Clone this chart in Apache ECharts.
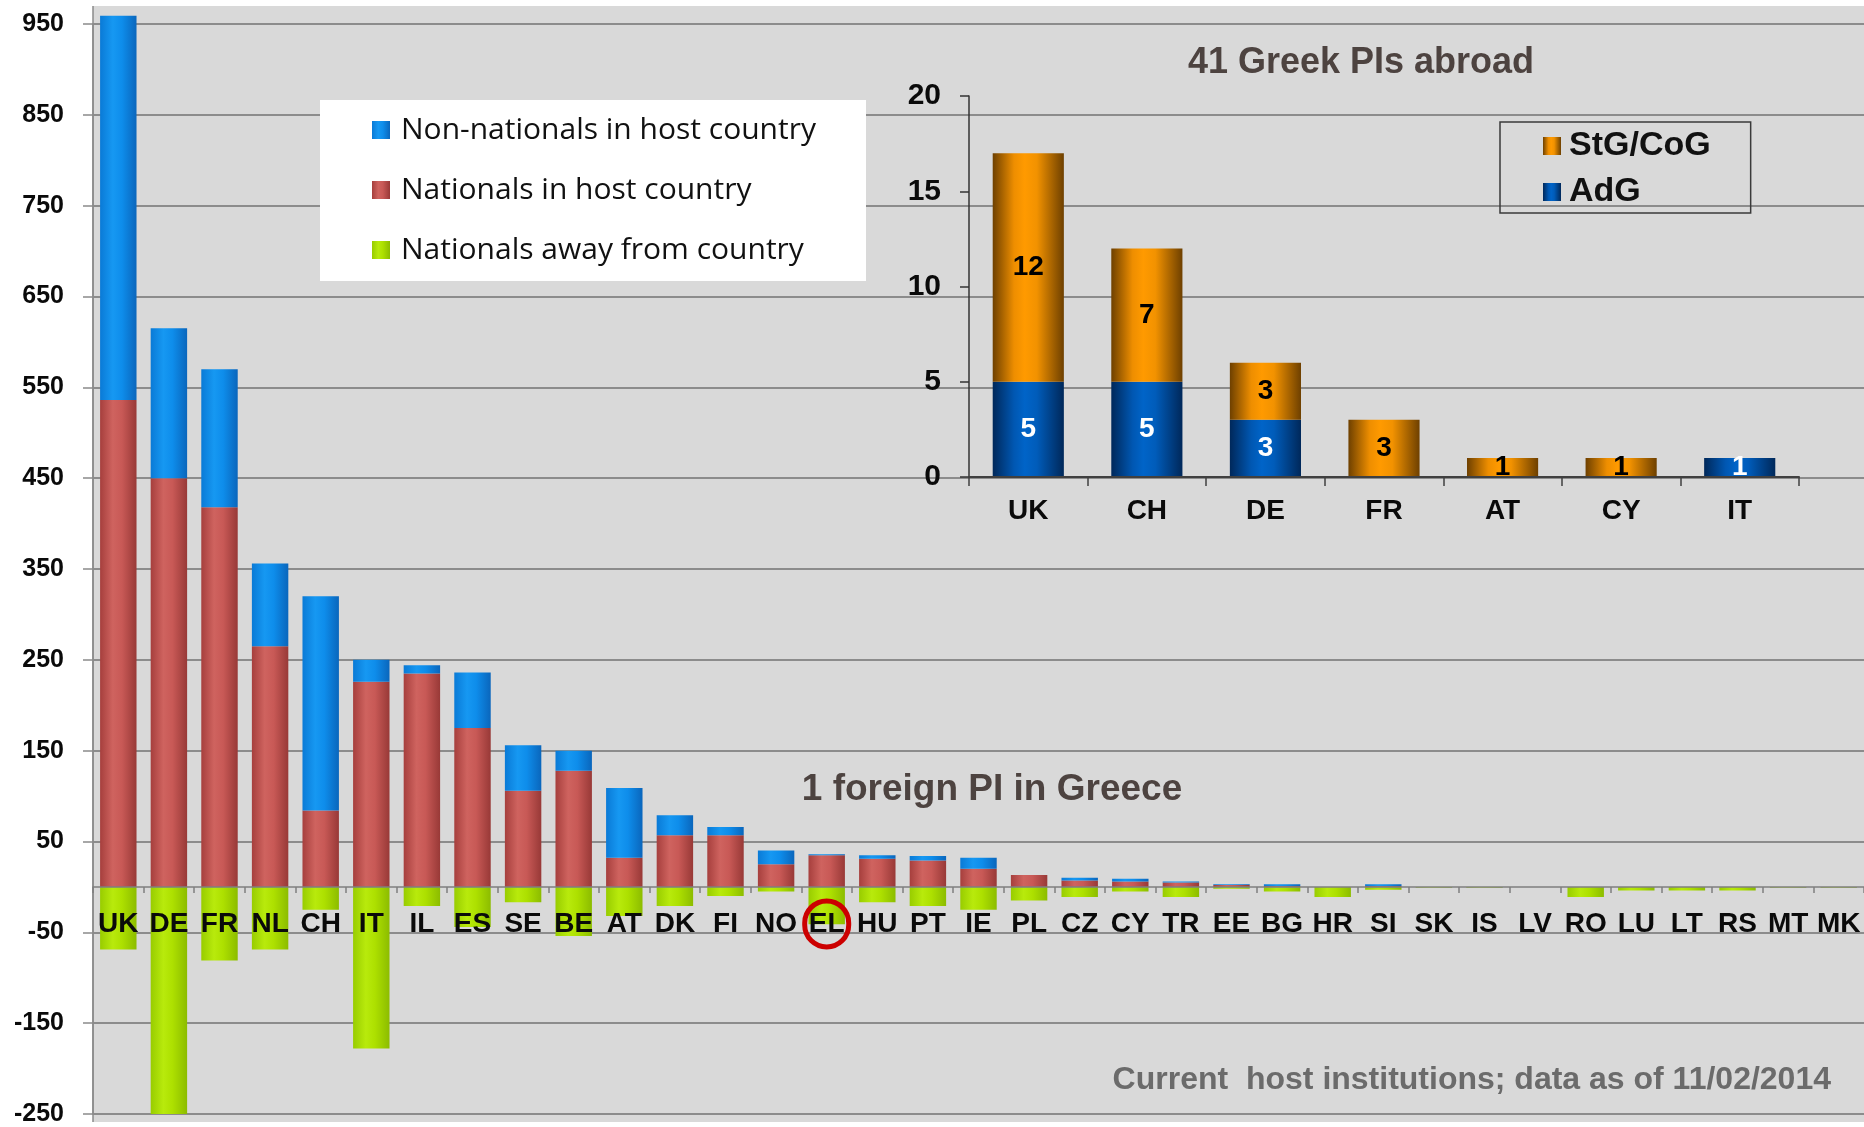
<!DOCTYPE html>
<html>
<head>
<meta charset="utf-8">
<script src="https://cdn.jsdelivr.net/npm/echarts/dist/echarts.min.js"></script>
<style>
  html, body { margin: 0; padding: 0; background: #ffffff; }
  #chart { width: 1864px; height: 1127px; }
</style>
</head>
<body>
<div id="chart"></div>
<script>
// ---------- data ----------
var countries = ['UK','DE','FR','NL','CH','IT','IL','ES','SE','BE','AT','DK','FI','NO','EL','HU','PT','IE','PL','CZ','CY','TR','EE','BG','HR','SI','SK','IS','LV','RO','LU','LT','RS','MT','MK'];
var nationalsHost    = [536,450,418,265, 84,226,235,175,106,128, 32, 57, 57, 25, 35, 31, 29, 20, 13,  7,  6,  5,  2,  1,  0,  1,  0,  0,  0,  0,  0,  0,  0,  0,  0];
var nonNationalsHost = [423,165,152, 91,236, 24,  9, 61, 50, 22, 77, 22,  9, 15,  1,  4,  5, 12,  0,  3,  3,  1,  1,  2,  0,  2,  0,  0,  0,  0,  0,  0,  0,  0,  0];
var nationalsAway    = [-69,-250,-81,-69,-25,-178,-21,-44,-17,-54,-32,-21,-10,-5,-41,-17,-21,-25,-15,-11,-5,-11,-2,-5,-11,-3,-1,-1, 0,-11,-4,-4,-4,-1,-1];
var highlightCountry = 'EL';

var insetCountries = ['UK','CH','DE','FR','AT','CY','IT'];
var adgValues = [5,5,3,0,0,0,1];
var stgValues = [12,7,3,3,1,1,0];

var mainTickMin = -250, mainTickMax = 950, mainTickStep = 100;
var insetTickMin = 0, insetTickMax = 20, insetTickStep = 5;

var seriesNames = ['Non-nationals in host country','Nationals in host country','Nationals away from country'];
var insetNames = ['StG/CoG','AdG'];
var texts = {
  insetTitle: '41 Greek PIs abroad',
  greeceNote: '1 foreign PI in Greece',
  footnote: 'Current  host institutions; data as of 11/02/2014'
};

// ---------- layout ----------
var W = 1864, H = 1127;
var mainGrid = { left: 93, right: 0, top: 24, bottom: 13 };
var mainGridHeight = H - mainGrid.top - mainGrid.bottom;
// move the category axis up from the grid bottom to the value 0
var zeroOffset = -((0 - mainTickMin) / (mainTickMax - mainTickMin)) * mainGridHeight;

// ---------- styles ----------
function hgrad(stops) {
  return { type: 'linear', x: 0, y: 0, x2: 1, y2: 0,
    colorStops: stops.map(function (s) { return { offset: s[0], color: s[1] }; }) };
}
var redGrad   = hgrad([[0,'#A63F3D'],[0.35,'#CF635F'],[0.6,'#C85956'],[1,'#983937']]);
var blueGrad  = hgrad([[0,'#0A7AD6'],[0.35,'#1698F2'],[0.6,'#0E8DEB'],[1,'#0A66BC']]);
var greenGrad = hgrad([[0,'#98CC00'],[0.35,'#B8EA0C'],[0.6,'#ADE000'],[1,'#8CBC00']]);
var orangeGrad = hgrad([[0,'#6E4000'],[0.3,'#EE8E00'],[0.45,'#FF9A00'],[0.62,'#F29200'],[1,'#6E4000']]);
var navyGrad   = hgrad([[0,'#00285A'],[0.3,'#0057B2'],[0.45,'#0064C8'],[0.62,'#005CBA'],[1,'#00285A']]);

var narrowFont = '"Liberation Sans Narrow", "Liberation Sans", Arial, sans-serif';
var boldFont = '"Liberation Sans", Arial, sans-serif';

var chart = echarts.init(document.getElementById('chart'), null, { renderer: 'canvas' });

var option = {
  backgroundColor: '#ffffff',
  animation: false,
  graphic: [
    { type: 'rect', z: -10, silent: true,
      shape: { x: 93, y: 6, width: 1771, height: 1116 },
      style: { fill: '#D9D9D9' } },
    { type: 'line', z: -5, silent: true,
      shape: { x1: 93, y1: 6, x2: 93, y2: 1122 },
      style: { stroke: '#8A8A8A', lineWidth: 1.5 } },
    { type: 'text', z: 20, silent: true,
      style: { text: texts.insetTitle, x: 1361, y: 63, align: 'center', verticalAlign: 'middle',
               font: 'bold 36px "Liberation Sans", Arial, sans-serif', fill: '#4D4340' } },
    { type: 'text', z: 20, silent: true,
      style: { text: texts.greeceNote, x: 992, y: 790, align: 'center', verticalAlign: 'middle',
               font: 'bold 37px "Liberation Sans", Arial, sans-serif', fill: '#4D4340' } },
    { type: 'text', z: 20, silent: true,
      style: { text: texts.footnote, x: 1831, y: 1080, align: 'right', verticalAlign: 'middle',
               font: 'bold 32px "Liberation Sans Narrow", "Liberation Sans", Arial, sans-serif', fill: '#6B6B6B' } }
  ],
  legend: [
    {
      data: seriesNames,
      orient: 'vertical',
      left: 320, top: 100,
      backgroundColor: '#FFFFFF',
      padding: [15, 50, 16, 52],
      itemWidth: 18, itemHeight: 18, itemGap: 30,
      icon: 'rect',
      selectedMode: false,
      textStyle: { fontFamily: '"Open Sans", sans-serif', fontSize: 30, color: '#111111', lineHeight: 30, padding: [0, 0, 0, 6] }
    },
    {
      data: insetNames,
      orient: 'vertical',
      left: 1500, top: 122,
      borderColor: '#3A3A3A', borderWidth: 1.5,
      padding: [7, 40, 4, 43],
      itemWidth: 18, itemHeight: 18, itemGap: 12,
      icon: 'rect',
      selectedMode: false,
      textStyle: { fontFamily: boldFont, fontWeight: 'bold', fontSize: 34, color: '#111111', lineHeight: 34, padding: [0, 0, 0, 3] }
    }
  ],
  grid: [
    { left: mainGrid.left, right: mainGrid.right, top: mainGrid.top, bottom: mainGrid.bottom, outerBoundsMode: 'none', containLabel: false },
    { left: 969, right: 65, top: 96, bottom: 650, outerBoundsMode: 'none', containLabel: false }
  ],
  xAxis: [
    {
      type: 'category', gridIndex: 0, data: countries, z: 5,
      position: 'bottom', offset: zeroOffset,
      axisLine: { show: true, onZero: false, lineStyle: { color: '#7F7F7F', width: 1.5 } },
      axisTick: { show: true, interval: 0, length: 6, lineStyle: { color: '#7F7F7F', width: 1.5 } },
      axisLabel: {
        show: true, interval: 0, hideOverlap: false, margin: 14,
        fontFamily: narrowFont, fontWeight: 'bold', fontSize: 28, color: '#0A0A0A', lineHeight: 46,
        formatter: function (v) { return v === highlightCountry ? '{c|' + v + '}' : v; },
        rich: {
          c: { width: 44, height: 46, lineHeight: 46, align: 'center',
               borderColor: '#CC0000', borderWidth: 5, borderRadius: 23,
               fontFamily: narrowFont, fontWeight: 'bold', fontSize: 28, color: '#0A0A0A' }
        }
      },
      splitLine: { show: false }
    },
    {
      type: 'category', gridIndex: 1, data: insetCountries, z: 5,
      axisLine: { lineStyle: { color: '#404040', width: 2 } },
      axisTick: { show: true, interval: 0, length: 9, lineStyle: { color: '#404040', width: 1.5 } },
      axisLabel: {
        interval: 0, hideOverlap: false, margin: 20,
        fontFamily: boldFont, fontWeight: 'bold', fontSize: 28, color: '#0A0A0A'
      },
      splitLine: { show: false }
    }
  ],
  yAxis: [
    {
      type: 'value', gridIndex: 0, min: mainTickMin, max: mainTickMax, interval: mainTickStep,
      axisLine: { show: true, lineStyle: { color: '#8A8A8A', width: 1.5 } },
      axisTick: { show: true, length: 10, lineStyle: { color: '#8A8A8A', width: 1.5 } },
      axisLabel: {
        margin: 29, hideOverlap: false,
        fontFamily: boldFont, fontWeight: 'bold', fontSize: 25, color: '#0A0A0A'
      },
      splitLine: { show: true, lineStyle: { color: '#8C8C8C', width: 2 } }
    },
    {
      type: 'value', gridIndex: 1, min: insetTickMin, max: insetTickMax, interval: insetTickStep,
      axisLine: { show: true, lineStyle: { color: '#333333', width: 1.5 } },
      axisTick: { show: true, length: 9, lineStyle: { color: '#333333', width: 1.5 } },
      axisLabel: {
        margin: 28, hideOverlap: false,
        fontFamily: boldFont, fontWeight: 'bold', fontSize: 30, color: '#0A0A0A'
      },
      splitLine: { show: false }
    }
  ],
  series: [
    { name: seriesNames[1], type: 'bar', stack: 'main', xAxisIndex: 0, yAxisIndex: 0,
      data: nationalsHost, barWidth: '72%', clip: false, itemStyle: { color: redGrad } },
    { name: seriesNames[0], type: 'bar', stack: 'main', xAxisIndex: 0, yAxisIndex: 0,
      data: nonNationalsHost, barWidth: '72%', clip: false, itemStyle: { color: blueGrad } },
    { name: seriesNames[2], type: 'bar', stack: 'main', xAxisIndex: 0, yAxisIndex: 0,
      data: nationalsAway, barWidth: '72%', clip: false, itemStyle: { color: greenGrad } },
    { name: insetNames[1], type: 'bar', stack: 'inset', xAxisIndex: 1, yAxisIndex: 1,
      data: adgValues, barWidth: '60%', itemStyle: { color: navyGrad },
      label: { show: true, position: 'inside', color: '#FFFFFF',
               fontFamily: boldFont, fontWeight: 'bold', fontSize: 28,
               formatter: function (p) { return p.value ? String(p.value) : ''; } } },
    { name: insetNames[0], type: 'bar', stack: 'inset', xAxisIndex: 1, yAxisIndex: 1,
      data: stgValues, barWidth: '60%', itemStyle: { color: orangeGrad },
      label: { show: true, position: 'inside', color: '#000000',
               fontFamily: boldFont, fontWeight: 'bold', fontSize: 28,
               formatter: function (p) { return p.value ? String(p.value) : ''; } } }
  ]
};
chart.setOption(option);
</script>
</body>
</html>
